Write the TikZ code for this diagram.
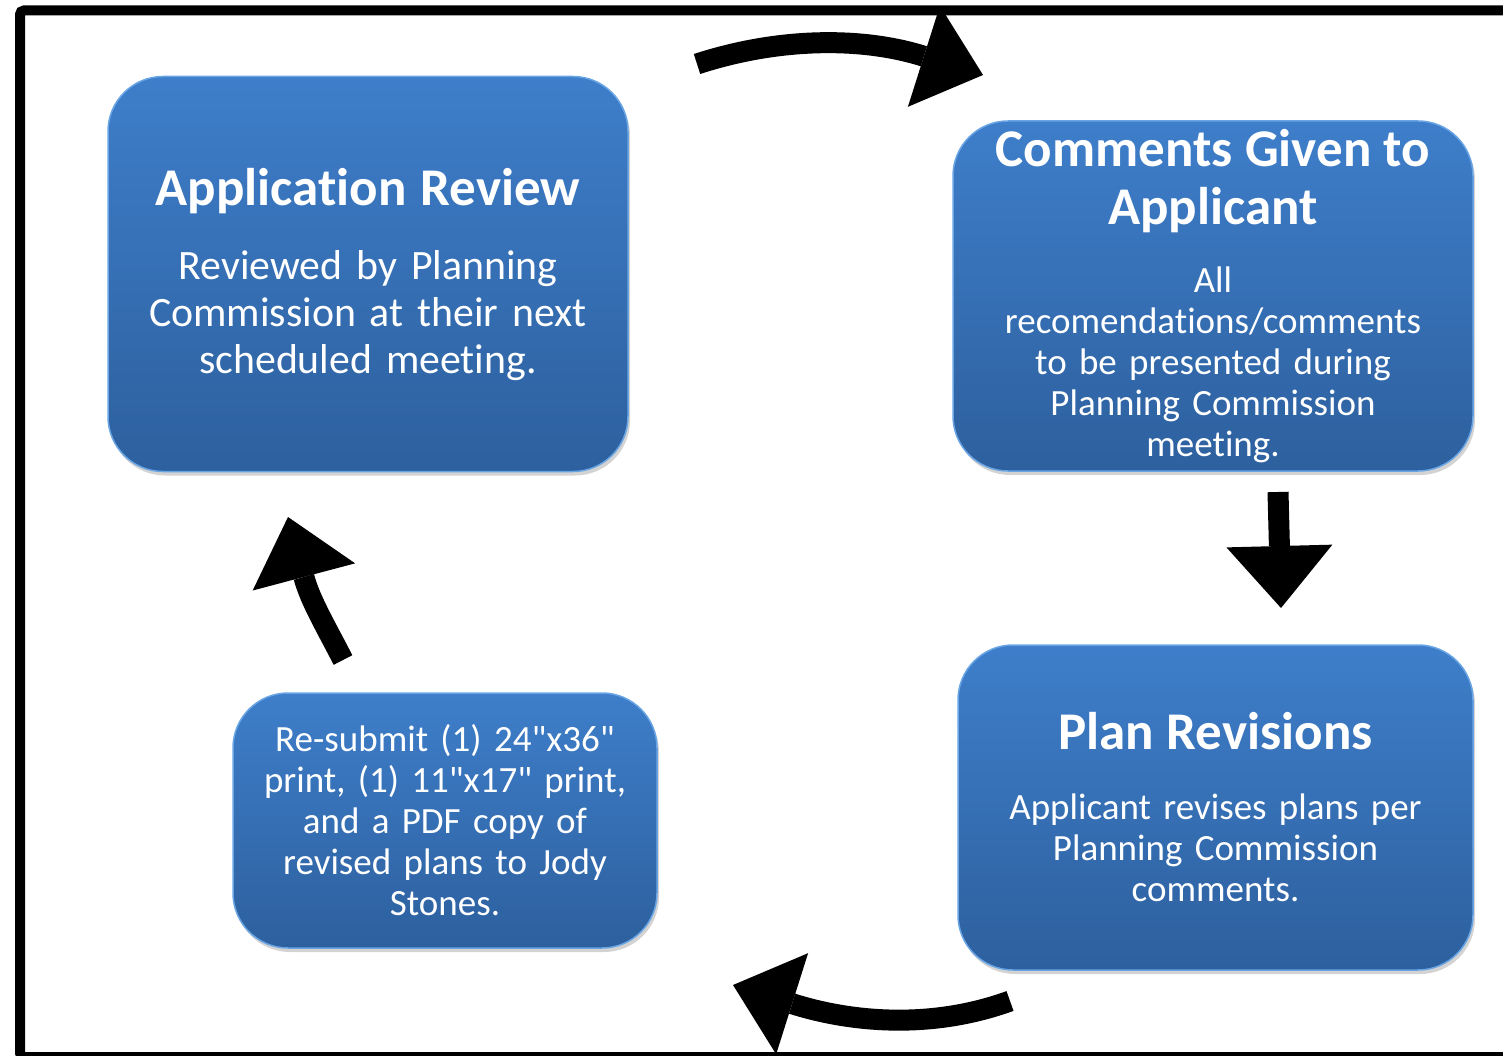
\documentclass[tikz,border=0pt]{standalone}
\usepackage{fontspec}
\newfontfamily\boxfont{Carlito}[Ligatures=NoCommon]
\usepackage{xcolor}
\usetikzlibrary{arrows.meta,shadows}

\definecolor{boxtop}{RGB}{62,126,202}
\definecolor{boxbot}{RGB}{45,96,158}
\definecolor{boxrim}{RGB}{105,165,228}

\newcommand{\ttlfont}{\fontsize{53}{58}\selectfont\bfseries}

\begin{document}
\begin{tikzpicture}[x=1pt, y=-1pt,
    box/.style={rectangle, rounded corners=55pt, draw=boxrim, line width=1.5pt,
        top color=boxtop, bottom color=boxbot, text=white, align=center,
        text width=505pt, inner sep=0pt,
        drop shadow={opacity=0.35, shadow xshift=2pt, shadow yshift=-4pt}},
    bigtxt/.style={font=\boxfont\fontsize{41.8}{47}\selectfont},
    smalltxt/.style={font=\boxfont\fontsize{37}{41}\selectfont},
    flow/.style={line width=21pt, -{Triangle[length=62pt, width=106pt, line width=0pt]}}]
    \useasboundingbox (0,0) rectangle (1503,1056);
    \draw[line width=10pt, rounded corners=4pt] (20,10.5) rectangle (1540,1057);

    \node[box, bigtxt, minimum width=520pt, minimum height=395pt] (review) at (368,274)
        {{\ttlfont Application Review\\[27pt]}Reviewed by Planning\\ Commission at their next\\ scheduled meeting.};
    \node[box, smalltxt, minimum width=520pt, minimum height=350pt] (comments) at (1213,296)
        {{\ttlfont Comments Given to\\ Applicant\\[27pt]}All\\ recomendations/comments\\ to be presented during\\ Planning Commission\\ meeting.};
    \node[box, smalltxt, minimum width=515pt, minimum height=325pt] (revise) at (1215.5,807.5)
        {{\ttlfont Plan Revisions\\[29pt]}Applicant revises plans per\\ Planning Commission\\ comments.};
    \node[box, smalltxt, text width=410pt, minimum width=424pt, minimum height=255pt] (resubmit) at (445,820.5)
        {Re-submit (1) 24"x36"\\ print, (1) 11"x17" print,\\ and a PDF copy of\\ revised plans to Jody\\ Stones.};

    \coordinate (a1) at (697,64);
    \coordinate (b1) at (983,75);
    \coordinate (a2) at (1278,492);
    \coordinate (b2) at (1281,608);
    \coordinate (a3) at (1010,1001);
    \coordinate (b3) at (733,985);
    \coordinate (a4) at (343,660);
    \coordinate (b4) at (288,517);

    \draw[flow] (a1) .. controls (780,37) and (863,37) .. (b1);
    \draw[flow] (a2) -- (b2);
    \draw[flow] (a3) .. controls (930,1030) and (850,1022) .. (b3);
    \draw[flow] (a4) .. controls (325,625) and (310,600) .. (b4);
\end{tikzpicture}
\end{document}
